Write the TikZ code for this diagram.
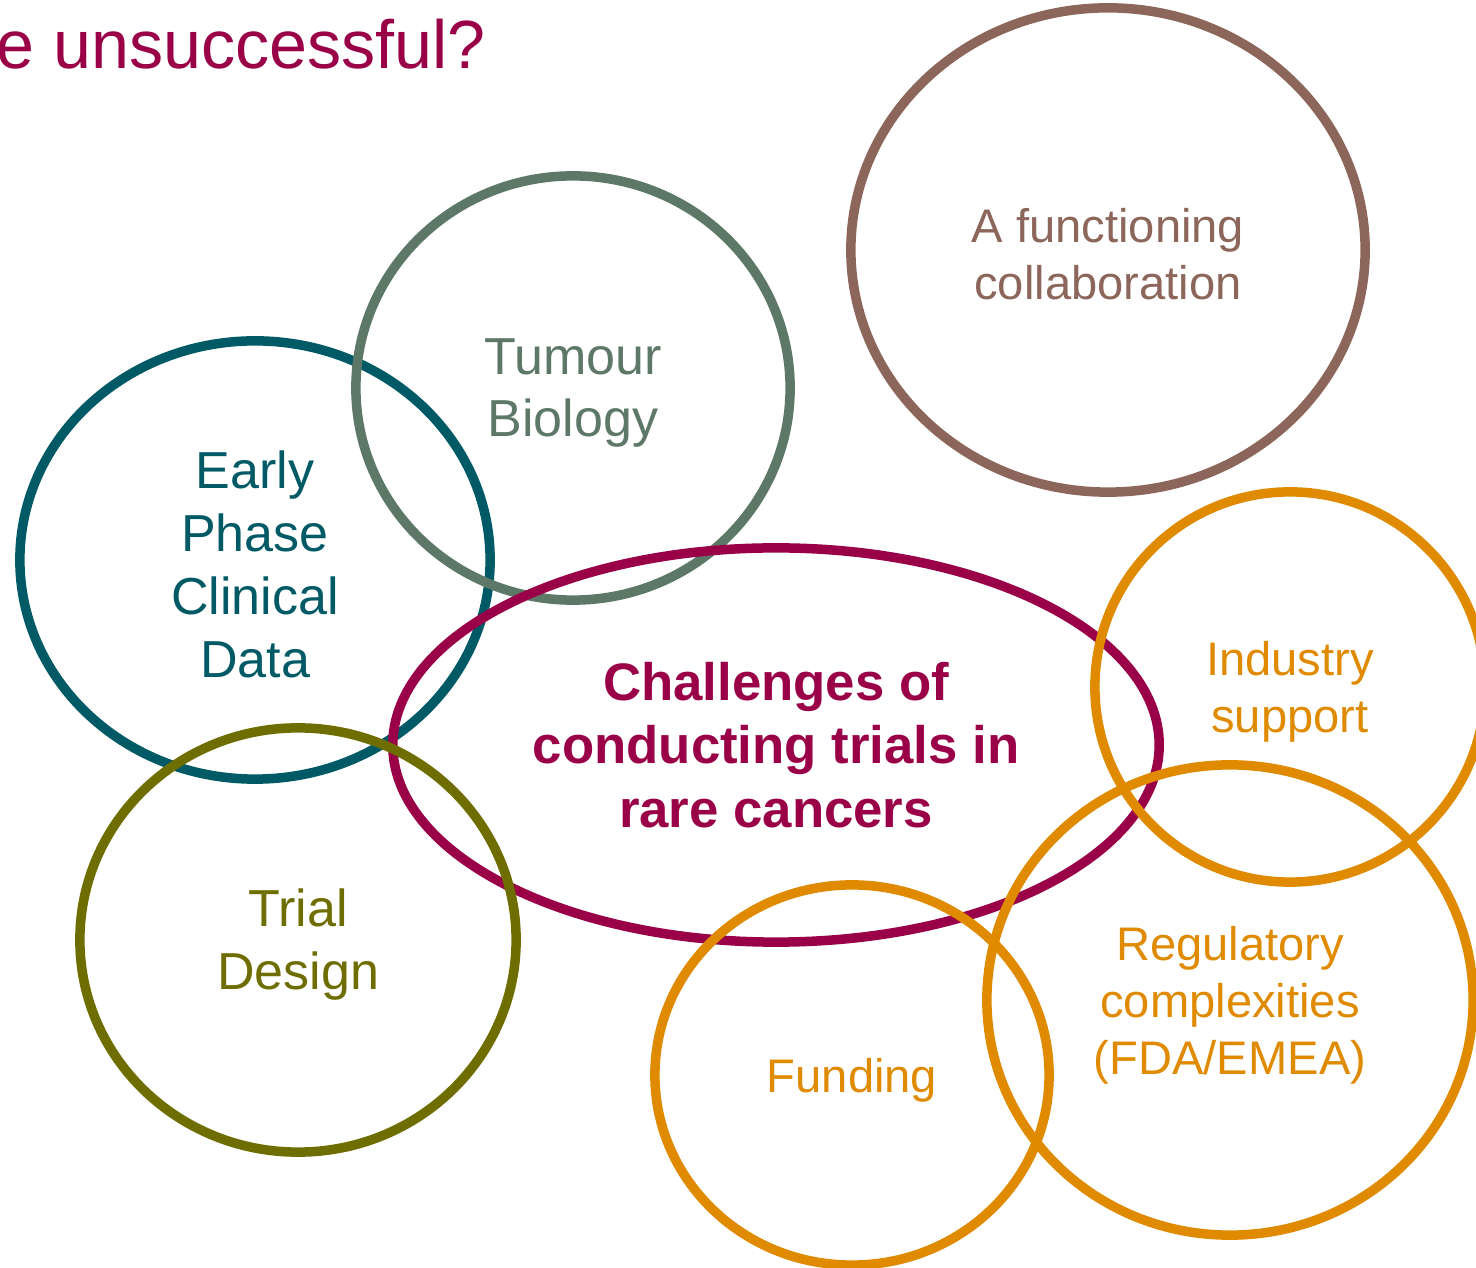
\documentclass[tikz,border=0pt]{standalone}
\usepackage{fontspec}
\setmainfont{Liberation Sans}
\usepackage{xcolor}
\usetikzlibrary{shapes.geometric}
\definecolor{maroon}{HTML}{9A0048}
\definecolor{collab}{HTML}{8C665A}
\definecolor{tumour}{HTML}{5E7868}
\definecolor{early}{HTML}{005A66}
\definecolor{trial}{HTML}{6E6E00}
\definecolor{amber}{HTML}{E08A00}
\tikzset{
  bubble/.style={ellipse,draw,line width=0.095cm,inner sep=0pt},
  bigtext/.style={align=center,font=\fontsize{14.8}{17.9}\selectfont},
  smalltext/.style={align=center,font=\fontsize{13.4}{16.2}\selectfont}
}

\begin{document}
\begin{tikzpicture}[x=0.01cm,y=-0.01cm]
\useasboundingbox (0,0) rectangle (1476,1268);
\node[anchor=base west,text=maroon,font=\fontsize{19.4}{23}\selectfont] (title) at (-16,69) {e unsuccessful?};
% bubbles
\node[bubble,draw=collab,minimum width=5.14cm,minimum height=4.84cm] (collab) at (1108,250) {};
\node[bubble,draw=early,minimum width=4.70cm,minimum height=4.38cm] (early) at (255,560) {};
\node[bubble,draw=tumour,minimum width=4.34cm,minimum height=4.24cm] (tumour) at (573,388) {};
\node[bubble,draw=maroon,minimum width=7.66cm,minimum height=3.94cm] (challenge) at (776,745) {};
\node[bubble,draw=trial,minimum width=4.36cm,minimum height=4.24cm] (trial) at (298,940) {};
\node[bubble,draw=amber,minimum width=3.90cm,minimum height=3.90cm] (industry) at (1290,687) {};
\node[bubble,draw=amber,minimum width=3.94cm,minimum height=3.80cm] (funding) at (852,1075) {};
\node[bubble,draw=amber,minimum width=4.86cm,minimum height=4.70cm] (regulatory) at (1230,1000) {};
% labels
\node[smalltext,text=collab,yshift=-0.04cm] (collabtext) at (collab) {A functioning\\collaboration};
\node[bigtext,text=early,yshift=-0.04cm] (earlytext) at (early) {Early\\Phase\\Clinical\\Data};
\node[bigtext,text=tumour,yshift=-0.05cm] (tumourtext) at (tumour) {Tumour\\Biology};
\node[align=center,text=maroon,font=\fontsize{15}{18.1}\selectfont\bfseries] (challengetext) at (challenge) {Challenges of\\conducting trials in\\rare cancers};
\node[bigtext,text=trial,yshift=-0.05cm] (trialtext) at (trial) {Trial\\Design};
\node[smalltext,text=amber,yshift=-0.05cm] (industrytext) at (industry) {Industry\\support};
\node[smalltext,text=amber,yshift=-0.05cm] (fundingtext) at (funding) {Funding};
\node[smalltext,text=amber,yshift=-0.05cm] (regulatorytext) at (regulatory) {Regulatory\\complexities\\(FDA/EMEA)};
\end{tikzpicture}
\end{document}
